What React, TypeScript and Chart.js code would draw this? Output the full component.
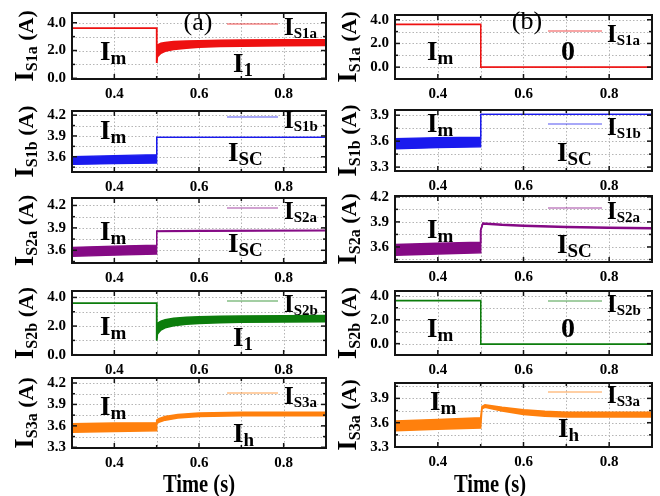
import React, { useEffect, useRef } from 'react';
import { Chart, registerables } from 'chart.js';

Chart.register(...registerables);

const FONT = '"Liberation Serif", "Times New Roman", serif';

// ---------- axis ticks ----------
const X_TICKS = [0.3, 0.4, 0.5, 0.6, 0.7, 0.8, 0.9];
const X_LABELED = [0.4, 0.6, 0.8];
const Y_TICKS_WIDE = [-1, 0, 1, 2, 3, 4];
const Y_LABELED_WIDE = [0, 2, 4];
const Y_TICKS_NARROW = [3.3, 3.45, 3.6, 3.75, 3.9, 4.05, 4.2];
const Y_LABELED_NARROW = [3.3, 3.6, 3.9, 4.2];

// ---------- column (a) ----------
const a1T = [0.3, 0.5, 0.5, 0.502, 0.51, 0.52, 0.54, 0.57, 0.6, 0.65, 0.7, 0.8, 0.9];
const a1Hi = [3.6, 3.6, 1.1, 2.4, 2.52, 2.58, 2.64, 2.68, 2.71, 2.74, 2.76, 2.77, 2.78];
const a1Lo = [3.6, 3.6, 1.1, 1.55, 1.8, 1.95, 2.08, 2.17, 2.23, 2.28, 2.31, 2.34, 2.36];

const a2T = [0.3, 0.4, 0.5, 0.5, 0.9];
const a2Hi = [3.6, 3.615, 3.63, 3.88, 3.88];
const a2Lo = [3.49, 3.5, 3.51, 3.88, 3.88];

const a3T = [0.3, 0.4, 0.5, 0.5, 0.6, 0.9];
const a3Hi = [3.64, 3.655, 3.67, 3.86, 3.865, 3.87];
const a3Lo = [3.52, 3.535, 3.55, 3.85, 3.855, 3.86];

const a4T = [0.3, 0.5, 0.5, 0.502, 0.51, 0.52, 0.54, 0.57, 0.6, 0.65, 0.7, 0.8, 0.9];
const a4Hi = [3.6, 3.6, 1.0, 2.2, 2.35, 2.45, 2.54, 2.61, 2.65, 2.69, 2.71, 2.73, 2.74];
const a4Lo = [3.6, 3.6, 1.0, 1.45, 1.72, 1.88, 2.02, 2.12, 2.18, 2.23, 2.26, 2.28, 2.3];

const a5T = [0.3, 0.4, 0.5, 0.5, 0.505, 0.52, 0.55, 0.6, 0.7, 0.8, 0.9];
const a5Hi = [3.63, 3.64, 3.645, 3.68, 3.7, 3.73, 3.76, 3.78, 3.79, 3.79, 3.79];
const a5Lo = [3.51, 3.52, 3.53, 3.63, 3.65, 3.68, 3.71, 3.73, 3.74, 3.74, 3.74];

// ---------- column (b) ----------
const b1T = [0.3, 0.5, 0.5, 0.9];
const b1Hi = [3.62, 3.62, 0.0, 0.0];
const b1Lo = [3.58, 3.58, 0.0, 0.0];

const b2T = [0.3, 0.4, 0.5, 0.5, 0.9];
const b2Hi = [3.63, 3.64, 3.645, 3.91, 3.91];
const b2Lo = [3.51, 3.525, 3.535, 3.91, 3.91];

const b3T = [0.3, 0.4, 0.5, 0.5, 0.505, 0.55, 0.6, 0.7, 0.8, 0.9];
const b3Hi = [3.63, 3.645, 3.655, 3.8, 3.885, 3.87, 3.86, 3.845, 3.835, 3.83];
const b3Lo = [3.5, 3.515, 3.53, 3.8, 3.875, 3.86, 3.85, 3.835, 3.825, 3.82];

const b4T = [0.3, 0.5, 0.5, 0.9];
const b4Hi = [3.62, 3.62, -0.05, -0.05];
const b4Lo = [3.58, 3.58, -0.05, -0.05];

const b5T = [0.3, 0.4, 0.5, 0.503, 0.51, 0.55, 0.6, 0.65, 0.7, 0.8, 0.9];
const b5Hi = [3.62, 3.64, 3.66, 3.8, 3.82, 3.79, 3.76, 3.74, 3.73, 3.73, 3.73];
const b5Lo = [3.5, 3.52, 3.535, 3.77, 3.79, 3.745, 3.7, 3.68, 3.67, 3.67, 3.67];

const RED = '#ee1111';
const BLUE = '#1a1aee';
const PURPLE = '#850a85';
const GREEN = '#0c7d0c';
const ORANGE = '#ff800d';

type Ann = { main: string; sub?: string; x: number; y: number; center?: boolean; normal?: boolean; size?: number };

interface PanelCfg {
  col: 0 | 1;
  top: number;
  bottom: number;
  t: number[];
  hi: number[];
  lo: number[];
  color: string;
  bw: number;
  yMin: number;
  yMax: number;
  yTicks: number[];
  yLabeled: number[];
  name: string;
  legendY: number;
  anns: Ann[];
  xTitle?: boolean;
}

const COLS = [
  { canvasLeft: 0, width: 332, plotLeft: 72, plotRight: 328, legX0: 227, legX1: 278, legTextX: 284, yTitleX: 33, xTitleX: 199 },
  { canvasLeft: 332, width: 328, plotLeft: 395, plotRight: 652, legX0: 548, legX1: 602, legTextX: 607, yTitleX: 356, xTitleX: 490 },
];
const PAD_TOP = 12;
const XAXIS_H = 30;
const XTITLE_BASE = 492;

const im = (x: number, y: number): Ann => ({ main: 'I', sub: 'm', x, y });

const PANELS: PanelCfg[] = [
  { col: 0, top: 10, bottom: 79, t: a1T, hi: a1Hi, lo: a1Lo, color: RED, bw: 1.5, yMin: -0.05, yMax: 4.7, yTicks: Y_TICKS_WIDE, yLabeled: Y_LABELED_WIDE, name: 'S1a', legendY: 24,
    anns: [im(100, 60), { main: 'I', sub: '1', x: 233, y: 72 }, { main: '(a)', x: 198, y: 30, center: true, normal: true, size: 26 }] },
  { col: 0, top: 108, bottom: 172, t: a2T, hi: a2Hi, lo: a2Lo, color: BLUE, bw: 1.3, yMin: 3.38, yMax: 4.26, yTicks: Y_TICKS_NARROW, yLabeled: Y_LABELED_NARROW, name: 'S1b', legendY: 117,
    anns: [im(100, 139), { main: 'I', sub: 'SC', x: 228, y: 161 }] },
  { col: 0, top: 195, bottom: 263, t: a3T, hi: a3Hi, lo: a3Lo, color: PURPLE, bw: 1.3, yMin: 3.43, yMax: 4.3, yTicks: Y_TICKS_NARROW, yLabeled: Y_LABELED_NARROW, name: 'S2a', legendY: 208,
    anns: [im(100, 240), { main: 'I', sub: 'SC', x: 228, y: 252 }] },
  { col: 0, top: 288, bottom: 355, t: a4T, hi: a4Hi, lo: a4Lo, color: GREEN, bw: 1.5, yMin: -0.02, yMax: 4.45, yTicks: Y_TICKS_WIDE, yLabeled: Y_LABELED_WIDE, name: 'S2b', legendY: 301,
    anns: [im(100, 335), { main: 'I', sub: '1', x: 233, y: 346 }] },
  { col: 0, top: 375, bottom: 448, t: a5T, hi: a5Hi, lo: a5Lo, color: ORANGE, bw: 1.5, yMin: 3.29, yMax: 4.27, yTicks: Y_TICKS_NARROW, yLabeled: Y_LABELED_NARROW, name: 'S3a', legendY: 393,
    anns: [im(100, 415), { main: 'I', sub: 'h', x: 233, y: 442 }], xTitle: true },

  { col: 1, top: 12, bottom: 79, t: b1T, hi: b1Hi, lo: b1Lo, color: RED, bw: 1.3, yMin: -1.0, yMax: 4.4, yTicks: Y_TICKS_WIDE, yLabeled: Y_LABELED_WIDE, name: 'S1a', legendY: 31,
    anns: [im(427, 60), { main: '0', x: 568, y: 60, center: true, size: 28 }, { main: '(b)', x: 527, y: 29, center: true, normal: true, size: 26 }] },
  { col: 1, top: 107, bottom: 171, t: b2T, hi: b2Hi, lo: b2Lo, color: BLUE, bw: 1.3, yMin: 3.255, yMax: 3.96, yTicks: Y_TICKS_NARROW, yLabeled: Y_LABELED_NARROW, name: 'S1b', legendY: 124,
    anns: [im(427, 132), { main: 'I', sub: 'SC', x: 557, y: 161 }] },
  { col: 1, top: 193, bottom: 262, t: b3T, hi: b3Hi, lo: b3Lo, color: PURPLE, bw: 1.6, yMin: 3.42, yMax: 4.21, yTicks: Y_TICKS_NARROW, yLabeled: Y_LABELED_NARROW, name: 'S2a', legendY: 208,
    anns: [im(427, 238), { main: 'I', sub: 'SC', x: 557, y: 253 }] },
  { col: 1, top: 288, bottom: 355, t: b4T, hi: b4Hi, lo: b4Lo, color: GREEN, bw: 1.3, yMin: -0.95, yMax: 4.4, yTicks: Y_TICKS_WIDE, yLabeled: Y_LABELED_WIDE, name: 'S2b', legendY: 301,
    anns: [im(427, 337), { main: '0', x: 568, y: 337, center: true, size: 28 }] },
  { col: 1, top: 380, bottom: 447, t: b5T, hi: b5Hi, lo: b5Lo, color: ORANGE, bw: 1.5, yMin: 3.3, yMax: 4.09, yTicks: Y_TICKS_NARROW, yLabeled: Y_LABELED_NARROW, name: 'S3a', legendY: 392,
    anns: [im(430, 410), { main: 'I', sub: 'h', x: 558, y: 437 }], xTitle: true },
];

function drawSub(ctx: CanvasRenderingContext2D, x: number, y: number, main: string, sub: string | undefined, mainSize: number, subSize: number, dy: number) {
  ctx.textAlign = 'left';
  ctx.textBaseline = 'alphabetic';
  ctx.font = `bold ${mainSize}px ${FONT}`;
  ctx.fillText(main, x, y);
  const w = ctx.measureText(main).width;
  if (sub) {
    ctx.font = `bold ${subSize}px ${FONT}`;
    ctx.fillText(sub, x + w, y + dy);
  }
}

function Panel({ cfg }: { cfg: PanelCfg }) {
  const ref = useRef<HTMLCanvasElement>(null);
  const col = COLS[cfg.col];
  const canvasTop = cfg.top - PAD_TOP;
  const plotH = cfg.bottom - cfg.top;
  const canvasH = cfg.xTitle ? 496 - canvasTop : plotH + PAD_TOP + XAXIS_H;

  useEffect(() => {
    const canvas = ref.current!;
    const toX = (px: number) => px - col.canvasLeft;
    const toY = (py: number) => py - canvasTop;
    const yTicks = cfg.yTicks.filter((v) => v >= cfg.yMin - 1e-9 && v <= cfg.yMax + 1e-9);

    const line = (ctx: CanvasRenderingContext2D, x1: number, y1: number, x2: number, y2: number) => {
      ctx.beginPath();
      ctx.moveTo(x1, y1);
      ctx.lineTo(x2, y2);
      ctx.stroke();
    };

    const gridPlugin = {
      id: 'dotGrid',
      beforeDatasetsDraw(chart: any) {
        const { ctx, chartArea: a, scales } = chart;
        ctx.save();
        ctx.strokeStyle = '#b5b5b5';
        ctx.lineWidth = 1;
        ctx.setLineDash([1.5, 2]);
        X_TICKS.forEach((v) => {
          const p = Math.round(scales.x.getPixelForValue(v)) + 0.5;
          line(ctx, p, a.top, p, a.bottom);
        });
        yTicks.forEach((v) => {
          const p = Math.round(scales.y.getPixelForValue(v)) + 0.5;
          line(ctx, a.left, p, a.right, p);
        });
        ctx.restore();
      },
    };

    const overlay = {
      id: 'overlay',
      afterDraw(chart: any) {
        const { ctx, chartArea: a, scales } = chart;
        ctx.save();
        ctx.setLineDash([]);
        // frame
        ctx.strokeStyle = '#141414';
        ctx.lineWidth = 2;
        ctx.strokeRect(a.left, a.top, a.right - a.left, a.bottom - a.top);
        // inward ticks
        ctx.lineWidth = 1.5;
        X_TICKS.forEach((v) => {
          const p = scales.x.getPixelForValue(v);
          const L = X_LABELED.includes(v) ? 5 : 3;
          line(ctx, p, a.bottom, p, a.bottom - L);
          line(ctx, p, a.top, p, a.top + L);
        });
        yTicks.forEach((v) => {
          const p = scales.y.getPixelForValue(v);
          const L = cfg.yLabeled.includes(v) ? 5 : 3;
          line(ctx, a.left, p, a.left + L, p);
          line(ctx, a.right, p, a.right - L, p);
        });
        // legend
        ctx.strokeStyle = cfg.color;
        ctx.globalAlpha = 0.75;
        ctx.lineWidth = 1.2;
        line(ctx, toX(col.legX0), toY(cfg.legendY), toX(col.legX1), toY(cfg.legendY));
        ctx.globalAlpha = 1;
        ctx.fillStyle = '#000';
        drawSub(ctx, toX(col.legTextX), toY(cfg.legendY + 11), 'I', cfg.name, 25, 15, 3);
        // annotations
        cfg.anns.forEach((an) => {
          if (an.center) {
            ctx.textAlign = 'center';
            ctx.textBaseline = 'alphabetic';
            ctx.font = `${an.normal ? '' : 'bold '}${an.size || 26}px ${FONT}`;
            ctx.fillText(an.main, toX(an.x), toY(an.y));
          } else {
            drawSub(ctx, toX(an.x), toY(an.y), an.main, an.sub, 27, 19, 4);
          }
        });
        // y title (rotated)
        ctx.save();
        ctx.translate(toX(col.yTitleX), (a.top + a.bottom) / 2);
        ctx.rotate(-Math.PI / 2);
        ctx.textAlign = 'left';
        ctx.textBaseline = 'alphabetic';
        ctx.font = `bold 27px ${FONT}`;
        const wI = ctx.measureText('I').width;
        ctx.font = `bold 16px ${FONT}`;
        const wS = ctx.measureText(cfg.name).width;
        ctx.font = `bold 22px ${FONT}`;
        const wA = ctx.measureText(' (A)').width;
        let x0 = -(wI + wS + wA) / 2;
        ctx.font = `bold 27px ${FONT}`;
        ctx.fillText('I', x0, 0);
        x0 += wI;
        ctx.font = `bold 16px ${FONT}`;
        ctx.fillText(cfg.name, x0, 4);
        x0 += wS;
        ctx.font = `bold 22px ${FONT}`;
        ctx.fillText(' (A)', x0, 0);
        ctx.restore();
        // x title
        if (cfg.xTitle) {
          ctx.save();
          ctx.translate(toX(col.xTitleX), toY(XTITLE_BASE));
          ctx.scale(0.82, 1);
          ctx.textAlign = 'center';
          ctx.textBaseline = 'alphabetic';
          ctx.font = `bold 25px ${FONT}`;
          ctx.fillText('Time (s)', 0, 0);
          ctx.restore();
        }
        ctx.restore();
      },
    };

    const tickFont = { family: FONT, size: 15, weight: 'bold' as const };
    const plotRightInCanvas = col.plotRight - col.canvasLeft;

    const chart = new Chart(canvas, {
      type: 'line',
      data: {
        datasets: [
          {
            data: cfg.t.map((x, i) => ({ x, y: cfg.hi[i] })),
            borderColor: cfg.color,
            backgroundColor: cfg.color,
            borderWidth: cfg.bw,
            pointRadius: 0,
            tension: 0,
            fill: '+1',
          },
          {
            data: cfg.t.map((x, i) => ({ x, y: cfg.lo[i] })),
            borderColor: cfg.color,
            backgroundColor: cfg.color,
            borderWidth: cfg.bw,
            pointRadius: 0,
            tension: 0,
            fill: false,
          },
        ],
      },
      options: {
        animation: false,
        responsive: false,
        events: [],
        layout: {
          padding: {
            top: PAD_TOP,
            left: 0,
            right: col.width - plotRightInCanvas,
            bottom: canvasH - PAD_TOP - plotH - XAXIS_H,
          },
        },
        plugins: { legend: { display: false }, tooltip: { enabled: false } },
        scales: {
          x: {
            type: 'linear',
            min: 0.3,
            max: 0.9,
            afterBuildTicks: (s: any) => {
              s.ticks = X_TICKS.map((v) => ({ value: v }));
            },
            afterFit: (s: any) => {
              s.height = XAXIS_H;
            },
            grid: { display: false, drawTicks: false },
            border: { display: false },
            ticks: {
              autoSkip: false,
              maxRotation: 0,
              minRotation: 0,
              padding: 6,
              color: '#000',
              font: tickFont,
              callback: (v: any) => (X_LABELED.includes(Number(v)) ? Number(v).toFixed(1) : ''),
            },
          },
          y: {
            type: 'linear',
            min: cfg.yMin,
            max: cfg.yMax,
            afterBuildTicks: (s: any) => {
              s.ticks = yTicks.map((v) => ({ value: v }));
            },
            afterFit: (s: any) => {
              s.width = col.plotLeft - col.canvasLeft;
            },
            grid: { display: false, drawTicks: false },
            border: { display: false },
            ticks: {
              autoSkip: false,
              padding: 6,
              color: '#000',
              font: tickFont,
              callback: (v: any) => (cfg.yLabeled.includes(Number(v)) ? Number(v).toFixed(1) : ''),
            },
          },
        },
      },
      plugins: [gridPlugin, overlay],
    } as any);
    return () => chart.destroy();
  }, []);

  return (
    <canvas
      ref={ref}
      width={col.width}
      height={canvasH}
      style={{ position: 'absolute', left: col.canvasLeft, top: canvasTop, width: col.width, height: canvasH }}
    />
  );
}

export default function App() {
  return (
    <div style={{ position: 'absolute', left: 0, top: 0, width: 660, height: 496, overflow: 'hidden', background: '#fff' }}>
      {PANELS.map((p, i) => (
        <Panel key={i} cfg={p} />
      ))}
    </div>
  );
}
